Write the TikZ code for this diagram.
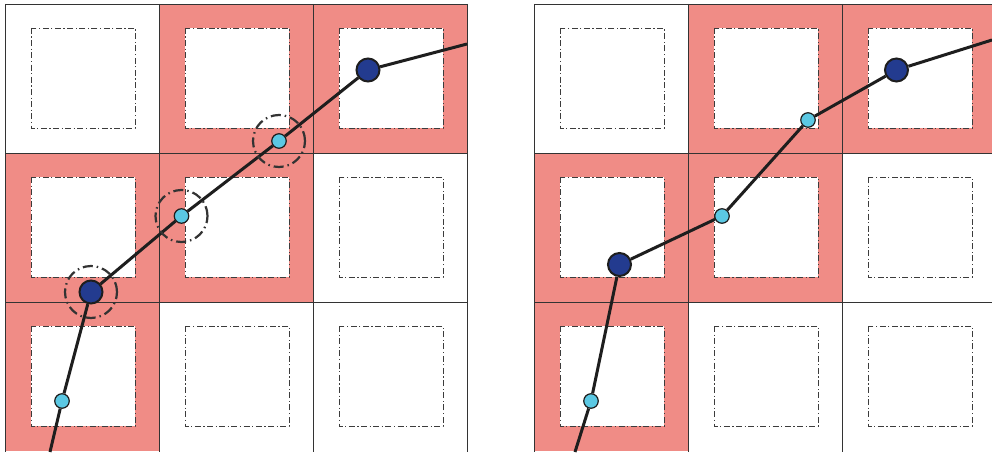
\documentclass[tikz,border=0pt]{standalone}
\usepackage{tikz}
\usetikzlibrary{positioning}
\definecolor{cellred}{HTML}{F08C86}
\definecolor{bigblue}{HTML}{233B8F}
\definecolor{smallblue}{HTML}{5BC8E3}
\definecolor{gridgray}{HTML}{333333}
\definecolor{boxgray}{HTML}{3C3C3C}
\definecolor{tracegray}{HTML}{1E1E1E}

\begin{document}
\begin{tikzpicture}[
    x=1pt, y=-1pt,
    gridline/.style={draw=gridgray, line width=0.9pt},
    innerbox/.style={draw=boxgray, fill=white, line width=0.9pt,
                     dash pattern=on 6pt off 2.5pt on 1.2pt off 2.5pt},
    bignode/.style={circle, draw=tracegray, line width=2pt, fill=bigblue,
                    minimum size=23pt, inner sep=0pt},
    smallnode/.style={circle, draw=tracegray, line width=1.2pt, fill=smallblue,
                      minimum size=14.5pt, inner sep=0pt},
    trace/.style={draw=tracegray, line width=3pt},
    halo/.style={draw=gridgray, line width=2.2pt,
                 dash pattern=on 10pt off 4pt on 1.5pt off 4pt}
]
\useasboundingbox (0,0) rectangle (992,452);

% two 3x3 grids, same colouring
\foreach \ox in {5,534} {
    \foreach \c/\r in {1/0,2/0,0/1,1/1,0/2}
        \fill[cellred] (\ox+154*\c,4+149*\r) rectangle ++(154,149);
    \foreach \c in {0,1,2}
        \foreach \r in {0,1,2}
            \draw[innerbox] (\ox+154*\c+26,4+149*\r+24) rectangle ++(104,100);
    \foreach \k in {0,1,2,3}
        \draw[gridline] (\ox+154*\k,4) -- ++(0,448);
    \foreach \k in {0,1,2}
        \draw[gridline] (\ox,4+149*\k) -- ++(462,0);
}

% left grid
\coordinate (lin) at (50,452);
\coordinate (lout) at (467,44);
\node[smallnode] (l1) at (62,401) {};
\node[bignode] (l2) at (91,292) {};
\node[smallnode] (l3) at (181.5,216) {};
\node[smallnode] (l4) at (279,141) {};
\node[bignode] (l5) at (368,70) {};

\draw[trace] (lin) -- (l1);
\draw[trace] (l1) -- (l2);
\draw[trace] (l2) -- (l3);
\draw[trace] (l3) -- (l4);
\draw[trace] (l4) -- (l5);
\draw[trace] (l5) -- (lout);

\draw[halo] (l2.center) circle[radius=26pt];
\draw[halo] (l3.center) circle[radius=26pt];
\draw[halo] (l4.center) circle[radius=26pt];

% right grid
\coordinate (rin) at (575,452);
\coordinate (rout) at (992,40);
\node[smallnode] (r1) at (591,401) {};
\node[bignode] (r2) at (619.5,264.5) {};
\node[smallnode] (r3) at (722,216) {};
\node[smallnode] (r4) at (808,120) {};
\node[bignode] (r5) at (896.5,70) {};

\draw[trace] (rin) -- (r1);
\draw[trace] (r1) -- (r2);
\draw[trace] (r2) -- (r3);
\draw[trace] (r3) -- (r4);
\draw[trace] (r4) -- (r5);
\draw[trace] (r5) -- (rout);

\end{tikzpicture}
\end{document}
